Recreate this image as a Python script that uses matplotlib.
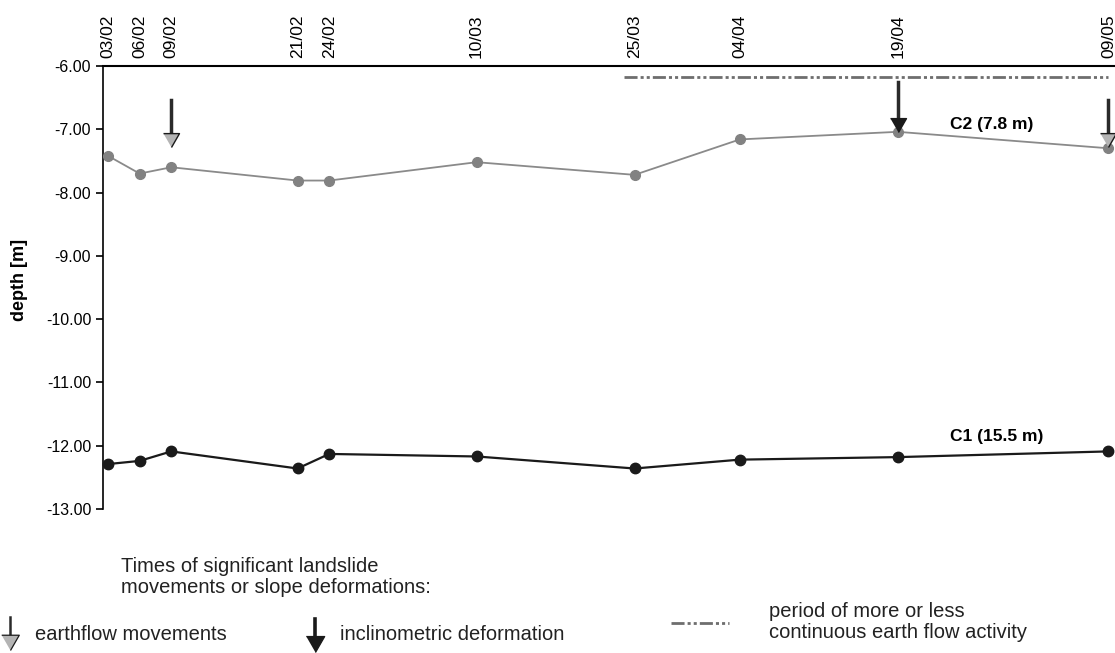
import matplotlib
matplotlib.use('Agg')
import matplotlib.pyplot as plt
import matplotlib.dates as mdates
import pandas as pd

plt.rcParams['font.family'] = ['Liberation Sans', 'DejaVu Sans']

# survey dates (dd/mm), year not given in the figure
survey_dates = pd.to_datetime(['2010-02-03', '2010-02-06', '2010-02-09', '2010-02-21', '2010-02-24',
                               '2010-03-10', '2010-03-25', '2010-04-04', '2010-04-19', '2010-05-09'])
c2_depth = [-7.42, -7.70, -7.60, -7.81, -7.81, -7.52, -7.72, -7.16, -7.04, -7.30]
c1_depth = [-12.29, -12.24, -12.09, -12.36, -12.13, -12.17, -12.36, -12.22, -12.18, -12.09]

# events
earthflow_dates = pd.to_datetime(['2010-02-09', '2010-05-09'])
earthflow_top = [-6.54, -6.54]
earthflow_tip = [-7.28, -7.28]
inclino_dates = pd.to_datetime(['2010-04-19'])
inclino_top = [-6.25]
inclino_tip = [-7.04]
activity_period = pd.to_datetime(['2010-03-24', '2010-05-09'])
activity_level = -6.18

# label positions
c2_label = ('C2 (7.8 m)', pd.Timestamp('2010-04-24'), -6.93)
c1_label = ('C1 (15.5 m)', pd.Timestamp('2010-04-24'), -11.86)

W, H = 1115, 653
fig = plt.figure(figsize=(W / 100, H / 100), dpi=100)
ax = fig.add_axes([103 / W, 1 - 509 / H, 1 - 103 / W, (509 - 66) / H])

GREY = '#828282'
DARK = '#1a1a1a'
SHAFT = '#2a2a2a'
LINE_GREY = '#6e6e6e'
HEAD_GREY = '#b4b4b4'
TXT = '#222222'
# triangle marker with its tip on the data point
head = [(-1.15, 2), (1.15, 2), (0, 0)]

ax.plot(survey_dates, c2_depth, color='#8a8a8a', lw=1.3, marker='o', ms=7, mfc=GREY, mec=GREY,
        clip_on=False, zorder=3)
ax.plot(survey_dates, c1_depth, color=DARK, lw=1.6, marker='o', ms=7.5, mfc=DARK, mec=DARK,
        clip_on=False, zorder=3)

ax.plot(activity_period, [activity_level] * 2, color=LINE_GREY, lw=2.0,
        dashes=[4.7, 1.1, 1.1, 1.1, 1.1, 1.1], clip_on=False, zorder=2)

for d, y0, y1 in zip(earthflow_dates, earthflow_top, earthflow_tip):
    ax.plot([d, d], [y0, y1 + 0.12], color=SHAFT, lw=2.5, clip_on=False, zorder=4)
    ax.plot([d], [y1], marker=head, ms=20, mfc=HEAD_GREY, mec=DARK, mew=1.0,
            clip_on=False, zorder=5)
for d, y0, y1 in zip(inclino_dates, inclino_top, inclino_tip):
    ax.plot([d, d], [y0, y1 + 0.12], color=SHAFT, lw=2.5, clip_on=False, zorder=4)
    ax.plot([d], [y1], marker=head, ms=20, mfc=DARK, mec=DARK, mew=1.0,
            clip_on=False, zorder=5)

for txt, x, y in (c2_label, c1_label):
    ax.text(x, y, txt, fontsize=12.5, fontweight='bold', ha='left', va='center', color='black')

ax.set_ylim(-13, -6)
ax.set_yticks([-13, -12, -11, -10, -9, -8, -7, -6])
ax.set_yticklabels([f'{v:.2f}' for v in ax.get_yticks()])
ax.set_xlim(pd.Timestamp('2010-02-03') - pd.Timedelta(hours=11.5),
            pd.Timestamp('2010-05-09') + pd.Timedelta(hours=15))
ax.xaxis.tick_top()
ax.set_xticks(survey_dates)
ax.xaxis.set_major_formatter(mdates.DateFormatter('%d/%m'))
ax.tick_params(axis='x', length=0, pad=5.5, labelsize=12.5, rotation=90)
ax.tick_params(axis='y', length=5, width=1.2, labelsize=11.5, pad=3.5, direction='out')
for lbl in ax.get_xticklabels():
    lbl.set_va('bottom')

ax.spines['right'].set_visible(False)
ax.spines['bottom'].set_visible(False)
ax.spines['top'].set_linewidth(1.5)
ax.spines['left'].set_linewidth(1.2)

fig.text(20 / W, 1 - 280 / H, 'depth [m]', rotation=90, fontsize=13, fontweight='bold',
         ha='center', va='center')

# legend area drawn in pixel coordinates
leg = fig.add_axes([0, 0, 1, 1], zorder=-1)
leg.set_xlim(0, W)
leg.set_ylim(H, 0)
leg.axis('off')
leg.text(121, 577, 'Times of significant landslide\nmovements or slope deformations:',
         fontsize=14.5, ha='left', va='center', linespacing=1.12, color=TXT)
leg.plot([10, 10], [617, 638], color=SHAFT, lw=1.8)
leg.plot([10], [650], marker=head, ms=22, mfc=HEAD_GREY, mec=DARK, mew=0.9)
leg.text(35, 635, 'earthflow movements', fontsize=14.5, ha='left', va='center', color=TXT)
leg.plot([315, 315], [619, 640], color=DARK, lw=2.6)
leg.plot([315], [652], marker=head, ms=23, mfc=DARK, mec=DARK, mew=0.9)
leg.text(340, 635, 'inclinometric deformation', fontsize=14.5, ha='left', va='center', color=TXT)
leg.plot([671, 729], [623, 623], color=LINE_GREY, lw=2.0, dashes=[4.7, 1.1, 1.1, 1.1, 1.1, 1.1])
leg.text(769, 622, 'period of more or less\ncontinuous earth flow activity', fontsize=14.5,
         ha='left', va='center', linespacing=1.12, color=TXT)

fig.savefig('out.png', dpi=100)
